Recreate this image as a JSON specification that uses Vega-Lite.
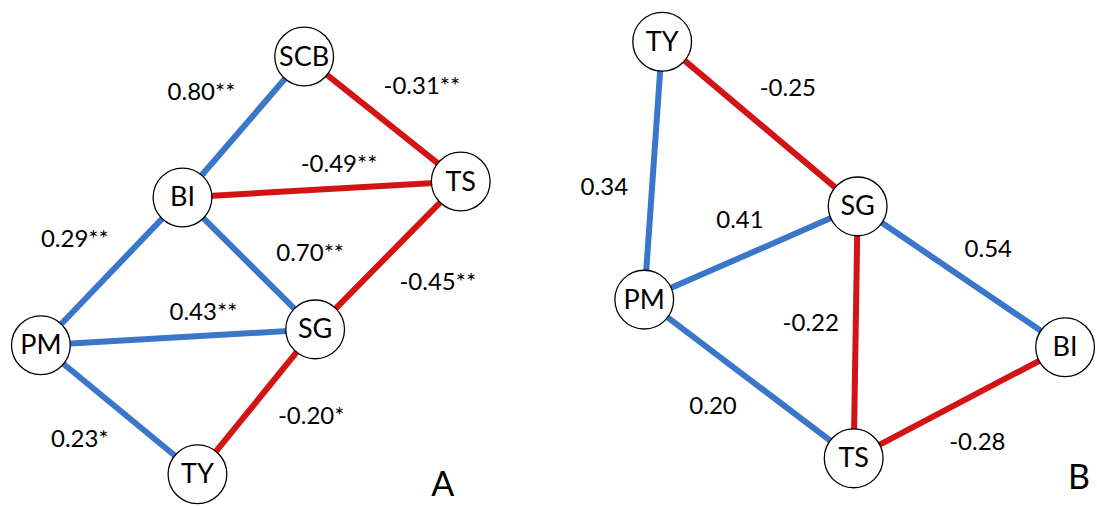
{
  "$schema": "https://vega.github.io/schema/vega-lite/v6.json",
  "width": 1097,
  "height": 506,
  "autosize": {"type": "fit", "contains": "padding"},
  "padding": 0,
  "background": "white",
  "config": {"view": {"stroke": null}},
  "datasets": {
    "edges": [
      {"panel": "A", "a": "SCB", "b": "BI", "sign": "pos", "x1": 305, "y1": 57, "x2": 183, "y2": 199},
      {"panel": "A", "a": "SCB", "b": "TS", "sign": "neg", "x1": 305, "y1": 57, "x2": 462, "y2": 183},
      {"panel": "A", "a": "BI", "b": "TS", "sign": "neg", "x1": 183, "y1": 199, "x2": 462, "y2": 183},
      {"panel": "A", "a": "BI", "b": "PM", "sign": "pos", "x1": 183, "y1": 199, "x2": 41, "y2": 348},
      {"panel": "A", "a": "BI", "b": "SG", "sign": "pos", "x1": 183, "y1": 199, "x2": 316, "y2": 332},
      {"panel": "A", "a": "TS", "b": "SG", "sign": "neg", "x1": 462, "y1": 183, "x2": 316, "y2": 332},
      {"panel": "A", "a": "PM", "b": "SG", "sign": "pos", "x1": 41, "y1": 348, "x2": 316, "y2": 332},
      {"panel": "A", "a": "PM", "b": "TY", "sign": "pos", "x1": 41, "y1": 348, "x2": 198, "y2": 478},
      {"panel": "A", "a": "TY", "b": "SG", "sign": "neg", "x1": 198, "y1": 478, "x2": 316, "y2": 332},
      {"panel": "B", "a": "TY", "b": "SG", "sign": "neg", "x1": 664, "y1": 42, "x2": 860, "y2": 208},
      {"panel": "B", "a": "TY", "b": "PM", "sign": "pos", "x1": 664, "y1": 42, "x2": 646, "y2": 302},
      {"panel": "B", "a": "PM", "b": "SG", "sign": "pos", "x1": 646, "y1": 302, "x2": 860, "y2": 208},
      {"panel": "B", "a": "SG", "b": "BI", "sign": "pos", "x1": 860, "y1": 208, "x2": 1068, "y2": 350},
      {"panel": "B", "a": "SG", "b": "TS", "sign": "neg", "x1": 860, "y1": 208, "x2": 856, "y2": 462},
      {"panel": "B", "a": "PM", "b": "TS", "sign": "pos", "x1": 646, "y1": 302, "x2": 856, "y2": 462},
      {"panel": "B", "a": "TS", "b": "BI", "sign": "neg", "x1": 856, "y1": 462, "x2": 1068, "y2": 350}
    ],
    "nodes": [
      {"panel": "A", "id": "SCB", "x": 305, "y": 57},
      {"panel": "A", "id": "TS", "x": 462, "y": 183},
      {"panel": "A", "id": "BI", "x": 183, "y": 199},
      {"panel": "A", "id": "SG", "x": 316, "y": 332},
      {"panel": "A", "id": "PM", "x": 41, "y": 348},
      {"panel": "A", "id": "TY", "x": 198, "y": 478},
      {"panel": "B", "id": "TY", "x": 664, "y": 42},
      {"panel": "B", "id": "SG", "x": 860, "y": 208},
      {"panel": "B", "id": "PM", "x": 646, "y": 302},
      {"panel": "B", "id": "BI", "x": 1068, "y": 350},
      {"panel": "B", "id": "TS", "x": 856, "y": 462}
    ],
    "labels": [
      {"text": "0.80**", "x": 202, "y": 94},
      {"text": "-0.31**", "x": 423, "y": 88},
      {"text": "-0.49**", "x": 340, "y": 166},
      {"text": "0.29**", "x": 75, "y": 242},
      {"text": "0.70**", "x": 311, "y": 256},
      {"text": "-0.45**", "x": 439, "y": 285},
      {"text": "0.43**", "x": 204, "y": 315},
      {"text": "0.23*", "x": 80, "y": 444},
      {"text": "-0.20*", "x": 312, "y": 420},
      {"text": "-0.25", "x": 790, "y": 90},
      {"text": "0.34", "x": 606, "y": 189},
      {"text": "0.41", "x": 742, "y": 223},
      {"text": "0.54", "x": 991, "y": 252},
      {"text": "-0.22", "x": 813, "y": 327},
      {"text": "0.20", "x": 715, "y": 410},
      {"text": "-0.28", "x": 980, "y": 447}
    ],
    "panels": [
      {"text": "A", "x": 444, "y": 490},
      {"text": "B", "x": 1082, "y": 483}
    ]
  },
  "layer": [
    {
      "data": {"name": "edges"},
      "mark": {"type": "rule", "strokeWidth": 6},
      "encoding": {
        "x": {"field": "x1", "type": "quantitative", "scale": {"domain": [0, 1097], "nice": false, "zero": false}, "axis": null},
        "y": {"field": "y1", "type": "quantitative", "scale": {"domain": [0, 506], "nice": false, "zero": false, "reverse": true}, "axis": null},
        "x2": {"field": "x2"},
        "y2": {"field": "y2"},
        "color": {"field": "sign", "type": "nominal", "scale": {"domain": ["pos", "neg"], "range": ["#3a76c9", "#d41414"]}, "legend": null}
      }
    },
    {
      "data": {"name": "nodes"},
      "mark": {"type": "point", "shape": "circle", "filled": false, "fill": "white", "fillOpacity": 1, "stroke": "black", "strokeWidth": 1.3, "size": 3450, "opacity": 1},
      "encoding": {
        "x": {"field": "x", "type": "quantitative"},
        "y": {"field": "y", "type": "quantitative"}
      }
    },
    {
      "data": {"name": "nodes"},
      "mark": {"type": "text", "font": "Lato", "fontSize": 27, "color": "black", "align": "center", "baseline": "middle", "dy": 1},
      "encoding": {
        "x": {"field": "x", "type": "quantitative"},
        "y": {"field": "y", "type": "quantitative"},
        "text": {"field": "id"}
      }
    },
    {
      "data": {"name": "labels"},
      "mark": {"type": "text", "font": "Lato", "fontSize": 24, "color": "black", "align": "center", "baseline": "middle"},
      "encoding": {
        "x": {"field": "x", "type": "quantitative"},
        "y": {"field": "y", "type": "quantitative"},
        "text": {"field": "text"}
      }
    },
    {
      "data": {"name": "panels"},
      "mark": {"type": "text", "font": "Lato", "fontSize": 34, "color": "black", "align": "center", "baseline": "middle"},
      "encoding": {
        "x": {"field": "x", "type": "quantitative"},
        "y": {"field": "y", "type": "quantitative"},
        "text": {"field": "text"}
      }
    }
  ]
}
